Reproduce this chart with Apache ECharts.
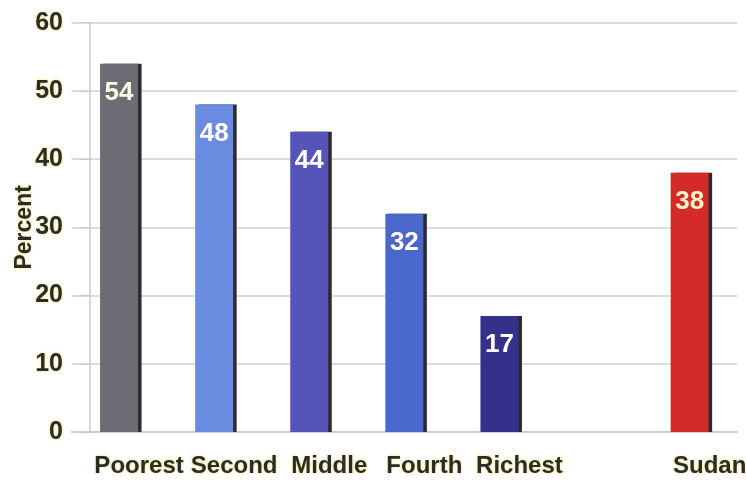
<!DOCTYPE html>
<html>
<head>
<meta charset="utf-8">
<script src="https://cdn.jsdelivr.net/npm/echarts@6/dist/echarts.min.js"></script>
<style>html,body{margin:0;padding:0;background:#fff;}#c{width:746px;height:481px;}</style>
</head>
<body>
<div id="c"></div>
<script>
const categories = ['Poorest', 'Second', 'Middle', 'Fourth', 'Richest', '', 'Sudan'];
const values = [54, 48, 44, 32, 17, null, 38];
const barColors = ['#6c6c74', '#6b8be0', '#5454b9', '#4a67cc', '#34318a', '#ffffff', '#d42a2a'];
const labelColors = ['#fffce8', '#ffffff', '#ffffff', '#ffffff', '#ffffff', '#ffffff', '#fff6c8'];
const yTicks = { min: 0, max: 60, interval: 10 };
const yName = 'Percent';

const chart = echarts.init(document.getElementById('c'), null, { renderer: 'canvas' });
const glow = { textShadowColor: 'rgba(235,225,80,0.9)', textShadowBlur: 3 };
chart.setOption({
  animation: false,
  backgroundColor: '#ffffff',
  grid: { left: 71.5, right: 8.8, top: 22.7, bottom: 49, containLabel: false, outerBoundsMode: 'none' },
  xAxis: {
    type: 'category',
    data: categories,
    axisLine: { show: true, lineStyle: { color: '#c4c4d4', width: 1.5 } },
    axisTick: { show: false },
    axisLabel: Object.assign({
      interval: 0,
      margin: 22,
      padding: [0, 0, 0, 40],
      color: '#2b2b2b',
      fontFamily: 'Liberation Sans, Arial, sans-serif',
      fontWeight: 'bold',
      fontSize: 24
    }, glow)
  },
  yAxis: {
    type: 'value',
    min: yTicks.min, max: yTicks.max, interval: yTicks.interval,
    offset: -18.5,
    name: yName,
    nameLocation: 'middle',
    nameGap: 54,
    nameMoveOverlap: false,
    nameRotate: 90,
    nameTextStyle: Object.assign({
      color: '#2b2b2b',
      fontFamily: 'Liberation Sans, Arial, sans-serif',
      fontWeight: 'bold',
      fontSize: 23
    }, glow),
    axisLine: { show: true, lineStyle: { color: '#c8c8d0', width: 1.5 } },
    axisTick: { show: true, length: 10, lineStyle: { color: '#c8c8d4' } },
    splitLine: { show: true, lineStyle: { color: '#cfcfe0', width: 1.5 } },
    axisLabel: Object.assign({
      margin: 27,
      color: '#2b2b2b',
      fontFamily: 'Liberation Sans, Arial, sans-serif',
      fontWeight: 'bold',
      fontSize: 25
    }, glow)
  },
  series: [{
    type: 'bar',
    barWidth: 38,
    data: values.map((v, i) => ({
      value: v == null ? '-' : v,
      itemStyle: { color: barColors[i] },
      label: { color: labelColors[i] }
    })),
    itemStyle: {
      shadowColor: '#2a2a30',
      shadowOffsetX: 3.5,
      shadowOffsetY: 0,
      shadowBlur: 0
    },
    label: {
      show: true,
      position: 'insideTop',
      distance: 16,
      fontFamily: 'Liberation Sans, Arial, sans-serif',
      fontWeight: 'bold',
      fontSize: 26
    }
  }]
});
</script>
</body>
</html>
